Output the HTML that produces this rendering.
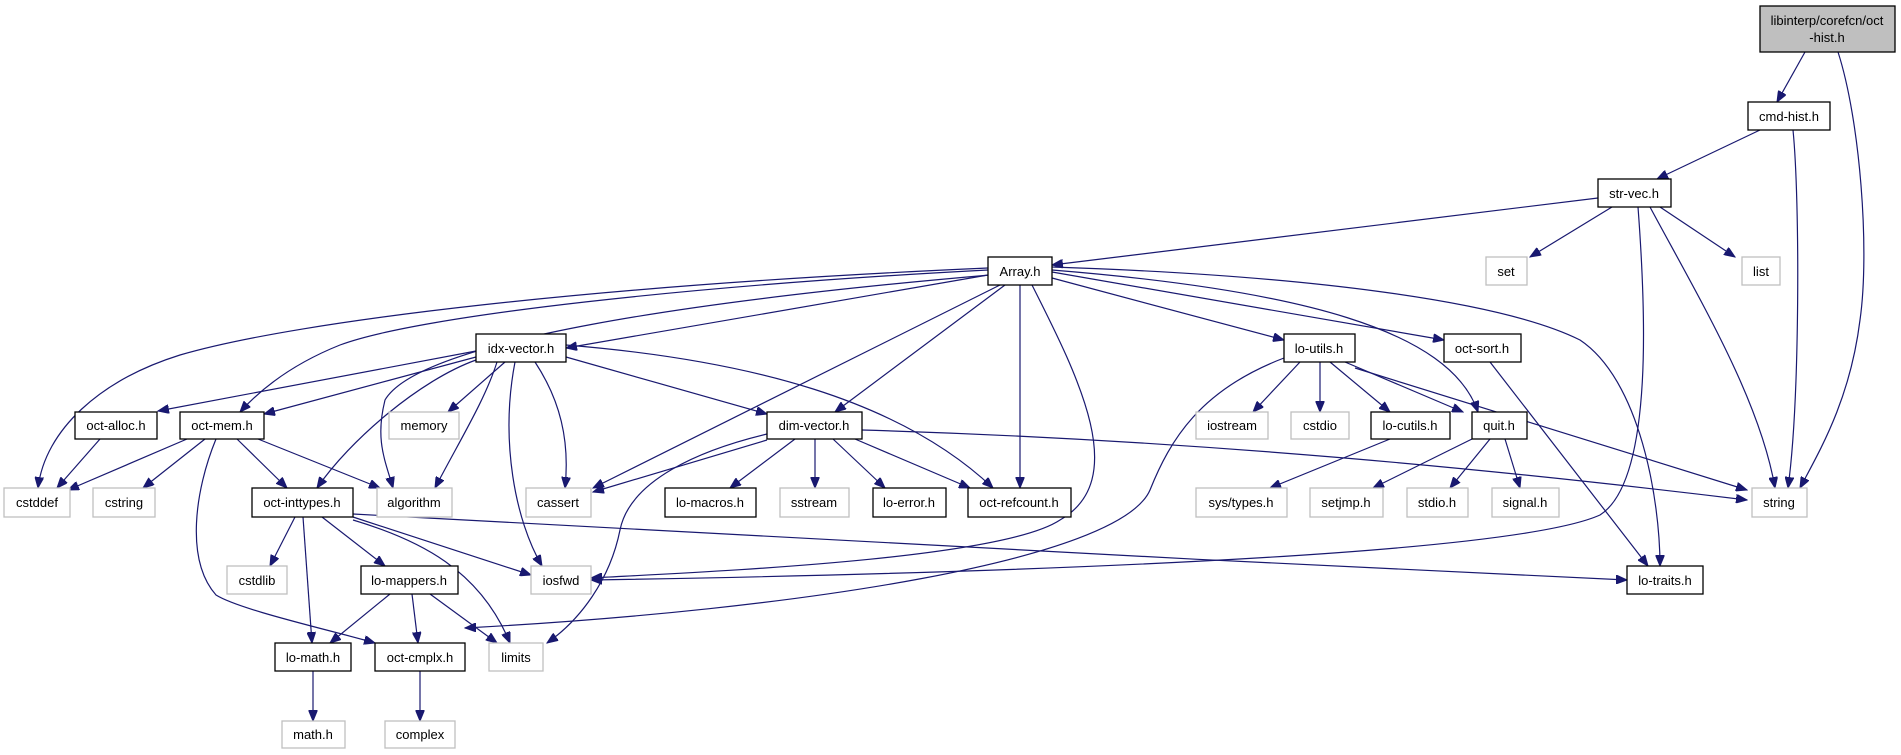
<!DOCTYPE html>
<html><head><meta charset="utf-8"><style>
html,body{margin:0;padding:0;background:#fff;}
svg{display:block;}
text{font-family:"Liberation Sans",sans-serif;font-size:13px;fill:#000;text-anchor:middle;}
.n{fill:#fff;stroke:#000;stroke-width:1.3;}
.g{fill:#fff;stroke:#bfbfbf;stroke-width:1.3;}
path.e{fill:none;stroke:#191970;stroke-width:1.2;marker-end:url(#a);}
</style></head><body>
<svg width="1901" height="755" viewBox="0 0 1901 755" xmlns="http://www.w3.org/2000/svg">
<defs><marker id="a" markerUnits="userSpaceOnUse" markerWidth="12" markerHeight="9" refX="11" refY="4.5" orient="auto"><path d="M0,0 L11,4.5 L0,9 z" fill="#191970" stroke="#191970"/></marker></defs>

<path class="e" d="M1805,52 L1777,102"/>
<path class="e" d="M1838,52 C1860,120 1870,250 1860,320 C1850,400 1820,450 1800,488"/>
<path class="e" d="M1793,130 C1800,200 1800,400 1788,488"/>
<path class="e" d="M1760,130 L1657,179"/>
<path class="e" d="M1598,198 L1052,265"/>
<path class="e" d="M1612,207 L1530,257"/>
<path class="e" d="M1660,207 L1735,257"/>
<path class="e" d="M1650,207 C1700,300 1760,400 1775,488"/>
<path class="e" d="M1638,207 C1645,300 1655,480 1600,515 C1500,560 900,575 591,580"/>

<path class="e" d="M988,275 L566,348"/>
<path class="e" d="M988,270 C700,285 420,315 340,345 C290,365 260,390 240,412"/>
<path class="e" d="M988,268 C600,285 300,320 180,355 C100,380 45,430 38,488"/>
<path class="e" d="M990,275 C700,300 420,340 385,400 C375,440 385,460 393,488"/>
<path class="e" d="M1000,285 L593,488"/>
<path class="e" d="M1005,285 L835,412"/>
<path class="e" d="M1020,285 L1020,488"/>
<path class="e" d="M1032,285 C1080,380 1130,480 1060,520 C1000,560 700,572 591,578"/>
<path class="e" d="M1052,278 L1284,340"/>
<path class="e" d="M1052,272 L1444,340"/>
<path class="e" d="M1052,270 C1300,290 1450,330 1478,412"/>
<path class="e" d="M1052,267 C1300,275 1500,300 1580,340 C1640,380 1660,500 1660,566"/>
<path class="e" d="M1490,362 L1648,566"/>

<path class="e" d="M476,351 L158,411"/>
<path class="e" d="M476,357 L264,414"/>
<path class="e" d="M505,362 L448,412"/>
<path class="e" d="M476,360 C420,380 350,440 317,488"/>
<path class="e" d="M497,362 C485,400 460,440 435,488"/>
<path class="e" d="M515,362 C500,440 515,520 542,566"/>
<path class="e" d="M535,362 C560,400 570,440 565,488"/>
<path class="e" d="M566,357 L767,414"/>
<path class="e" d="M566,345 C750,360 900,400 993,488"/>

<path class="e" d="M1300,362 L1253,412"/>
<path class="e" d="M1320,362 L1320,412"/>
<path class="e" d="M1330,362 L1390,412"/>
<path class="e" d="M1345,362 L1463,412"/>
<path class="e" d="M1355,368 L1747,490"/>
<path class="e" d="M1284,358 C1200,390 1170,440 1150,490 C1120,560 800,610 465,628"/>

<path class="e" d="M767,440 L593,492"/>
<path class="e" d="M795,439 L730,488"/>
<path class="e" d="M815,439 L815,488"/>
<path class="e" d="M833,439 L885,488"/>
<path class="e" d="M855,439 L970,488"/>
<path class="e" d="M862,430 C1200,440 1500,470 1747,500"/>
<path class="e" d="M767,434 C700,450 630,480 620,530 C610,580 580,620 547,643"/>

<path class="e" d="M1390,439 L1270,488"/>
<path class="e" d="M1472,439 L1373,488"/>
<path class="e" d="M1490,439 L1450,488"/>
<path class="e" d="M1505,439 L1520,488"/>

<path class="e" d="M295,517 L270,566"/>
<path class="e" d="M303,517 L312,643"/>
<path class="e" d="M322,517 L385,566"/>
<path class="e" d="M353,517 L531,575"/>
<path class="e" d="M353,520 C420,540 480,570 510,643"/>
<path class="e" d="M353,514 C700,535 1200,560 1627,580"/>

<path class="e" d="M390,594 L330,643"/>
<path class="e" d="M412,594 L418,643"/>
<path class="e" d="M430,594 L497,643"/>

<path class="e" d="M216,439 C195,490 185,560 216,595 C240,610 330,630 375,643"/>
<path class="e" d="M187,439 L68,490"/>
<path class="e" d="M205,439 L143,488"/>
<path class="e" d="M237,439 L287,488"/>
<path class="e" d="M258,439 L380,488"/>
<path class="e" d="M100,439 L57,488"/>
<path class="e" d="M313,671 L313,721"/>
<path class="e" d="M420,671 L420,721"/>

<rect x="1760" y="6" width="135" height="46" fill="#bfbfbf" stroke="#000" stroke-width="1.3"/>
<text x="1827" y="25">libinterp/corefcn/oct</text><text x="1827" y="42">-hist.h</text>

<rect class="n" x="1748" y="102" width="82" height="28"/><text x="1789" y="121">cmd-hist.h</text>
<rect class="n" x="1598" y="179" width="73" height="28"/><text x="1634" y="198">str-vec.h</text>
<rect class="g" x="1486" y="257" width="41" height="28"/><text x="1506" y="276">set</text>
<rect class="g" x="1742" y="257" width="38" height="28"/><text x="1761" y="276">list</text>
<rect class="n" x="988" y="257" width="64" height="28"/><text x="1020" y="276">Array.h</text>
<rect class="n" x="476" y="334" width="90" height="28"/><text x="521" y="353">idx-vector.h</text>
<rect class="n" x="1284" y="334" width="71" height="28"/><text x="1319" y="353">lo-utils.h</text>
<rect class="n" x="1444" y="334" width="77" height="28"/><text x="1482" y="353">oct-sort.h</text>

<rect class="n" x="75" y="412" width="82" height="27"/><text x="116" y="430">oct-alloc.h</text>
<rect class="n" x="180" y="412" width="84" height="27"/><text x="222" y="430">oct-mem.h</text>
<rect class="g" x="389" y="412" width="70" height="27"/><text x="424" y="430">memory</text>
<rect class="n" x="767" y="412" width="95" height="27"/><text x="814" y="430">dim-vector.h</text>
<rect class="g" x="1196" y="412" width="72" height="27"/><text x="1232" y="430">iostream</text>
<rect class="g" x="1291" y="412" width="58" height="27"/><text x="1320" y="430">cstdio</text>
<rect class="n" x="1371" y="412" width="79" height="27"/><text x="1410" y="430">lo-cutils.h</text>
<rect class="n" x="1472" y="412" width="55" height="27"/><text x="1499" y="430">quit.h</text>

<rect class="g" x="4" y="488" width="66" height="29"/><text x="37" y="507">cstddef</text>
<rect class="g" x="93" y="488" width="62" height="29"/><text x="124" y="507">cstring</text>
<rect class="n" x="252" y="488" width="101" height="29"/><text x="302" y="507">oct-inttypes.h</text>
<rect class="g" x="377" y="488" width="75" height="29"/><text x="414" y="507">algorithm</text>
<rect class="g" x="526" y="488" width="65" height="29"/><text x="558" y="507">cassert</text>
<rect class="n" x="665" y="488" width="91" height="29"/><text x="710" y="507">lo-macros.h</text>
<rect class="g" x="780" y="488" width="69" height="29"/><text x="814" y="507">sstream</text>
<rect class="n" x="873" y="488" width="73" height="29"/><text x="909" y="507">lo-error.h</text>
<rect class="n" x="968" y="488" width="103" height="29"/><text x="1019" y="507">oct-refcount.h</text>
<rect class="g" x="1196" y="488" width="91" height="29"/><text x="1241" y="507">sys/types.h</text>
<rect class="g" x="1310" y="488" width="73" height="29"/><text x="1346" y="507">setjmp.h</text>
<rect class="g" x="1407" y="488" width="61" height="29"/><text x="1437" y="507">stdio.h</text>
<rect class="g" x="1492" y="488" width="67" height="29"/><text x="1525" y="507">signal.h</text>
<rect class="g" x="1752" y="488" width="55" height="29"/><text x="1779" y="507">string</text>

<rect class="g" x="227" y="566" width="60" height="28"/><text x="257" y="585">cstdlib</text>
<rect class="n" x="361" y="566" width="97" height="28"/><text x="409" y="585">lo-mappers.h</text>
<rect class="g" x="531" y="566" width="60" height="28"/><text x="561" y="585">iosfwd</text>
<rect class="n" x="1627" y="566" width="76" height="28"/><text x="1665" y="585">lo-traits.h</text>

<rect class="n" x="275" y="643" width="76" height="28"/><text x="313" y="662">lo-math.h</text>
<rect class="n" x="375" y="643" width="90" height="28"/><text x="420" y="662">oct-cmplx.h</text>
<rect class="g" x="489" y="643" width="54" height="28"/><text x="516" y="662">limits</text>
<rect class="g" x="282" y="721" width="63" height="27"/><text x="313" y="739">math.h</text>
<rect class="g" x="385" y="721" width="70" height="27"/><text x="420" y="739">complex</text>
</svg>
</body></html>
